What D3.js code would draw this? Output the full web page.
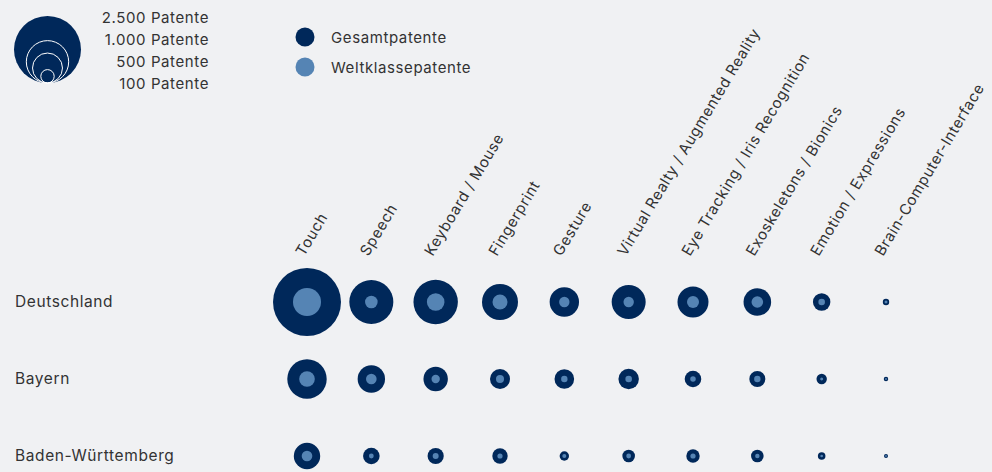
<!DOCTYPE html>
<html><head><meta charset="utf-8">
<script src="https://cdn.jsdelivr.net/npm/d3@7"></script>
<style>
html,body{margin:0;padding:0;background:#f0f1f3;}
svg{display:block;font-family:Inter,"Noto Sans",sans-serif;letter-spacing:0.6px;}
</style></head>
<body>
<svg id="chart" width="992" height="472"></svg>
<script>
const categories = ["Touch","Speech","Keyboard / Mouse","Fingerprint","Gesture","Virtual Realty / Augmented Reality","Eye Tracking / Iris Recognition","Exoskeletons / Bionics","Emotion / Expressions","Brain-Computer-Interface"];
const regions = ["Deutschland","Bayern","Baden-Württemberg"];
const totalDeutschland = [2575,1078,1098,722,481,644,535,424,169,23];
const worldDeutschland = [437,88,173,125,60,60,80,75,24,5];
const totalBayern = [865,418,332,223,214,232,153,143,60,11];
const worldBayern = [136,63,39,36,23,24,17,23,5,2];
const totalBW = [388,153,146,132,49,88,100,88,32,9];
const worldBW = [63,13,20,15,9,13,15,11,4,2];
const sizeLegendValues = [2500,1000,500,100];
const sizeLegendLabels = ["2.500 Patente","1.000 Patente","500 Patente","100 Patente"];
const seriesNames = ["Gesamtpatente","Weltklassepatente"];

const totals = [totalDeutschland,totalBayern,totalBW];
const worlds = [worldDeutschland,worldBayern,worldBW];
const colDark = "#00285a", colLight = "#5584b4", textCol = "#333";

const svg = d3.select("#chart");
const x = d3.scalePoint().domain(categories).range([307,886]);
const y = d3.scalePoint().domain(regions).range([302,456]);
const r = d3.scaleSqrt().domain([0,2500]).range([0,33.5]);

// size legend
const lg = svg.append("g");
const lcx = 47.5, lbottom = 83;
lg.selectAll("circle").data(sizeLegendValues).join("circle")
  .attr("cx", lcx).attr("cy", d => lbottom - r(d)).attr("r", d => r(d))
  .attr("fill", (d,i) => i===0 ? colDark : "none")
  .attr("stroke", (d,i) => i===0 ? "none" : "#fff").attr("stroke-width", 1);
lg.selectAll("text").data(sizeLegendLabels).join("text")
  .attr("x", 209).attr("y", (d,i) => 18 + i*22).attr("dy","0.35em")
  .attr("text-anchor","end").attr("font-size",15).attr("fill",textCol).text(d=>d);

// color legend
const cl = svg.append("g");
cl.selectAll("circle").data(seriesNames).join("circle")
  .attr("cx",305).attr("cy",(d,i)=>37+i*30).attr("r",9.5)
  .attr("fill",(d,i)=> i===0?colDark:colLight);
cl.selectAll("text").data(seriesNames).join("text")
  .attr("x",331).attr("y",(d,i)=>38+i*30).attr("dy","0.35em")
  .attr("font-size",15).attr("fill",textCol).text(d=>d);

// column labels
svg.append("g").selectAll("text").data(categories).join("text")
  .attr("transform", d => `translate(${x(d)-3},257) rotate(-59)`)
  .attr("font-size",15).attr("fill",textCol).text(d=>d);

// row labels
svg.append("g").selectAll("text").data(regions).join("text")
  .attr("x",15).attr("y",d=>y(d)).attr("dy","0.35em")
  .attr("font-size",15.5).attr("fill",textCol).text(d=>d);

// bubbles
regions.forEach((reg,ri) => {
  const g = svg.append("g");
  g.selectAll("circle.t").data(categories).join("circle").attr("class","t")
    .attr("cx",d=>x(d)).attr("cy",y(reg)).attr("r",(d,i)=>r(totals[ri][i])).attr("fill",colDark);
  g.selectAll("circle.w").data(categories).join("circle").attr("class","w")
    .attr("cx",d=>x(d)).attr("cy",y(reg)).attr("r",(d,i)=>r(worlds[ri][i])).attr("fill",colLight);
});
</script>
</body></html>
